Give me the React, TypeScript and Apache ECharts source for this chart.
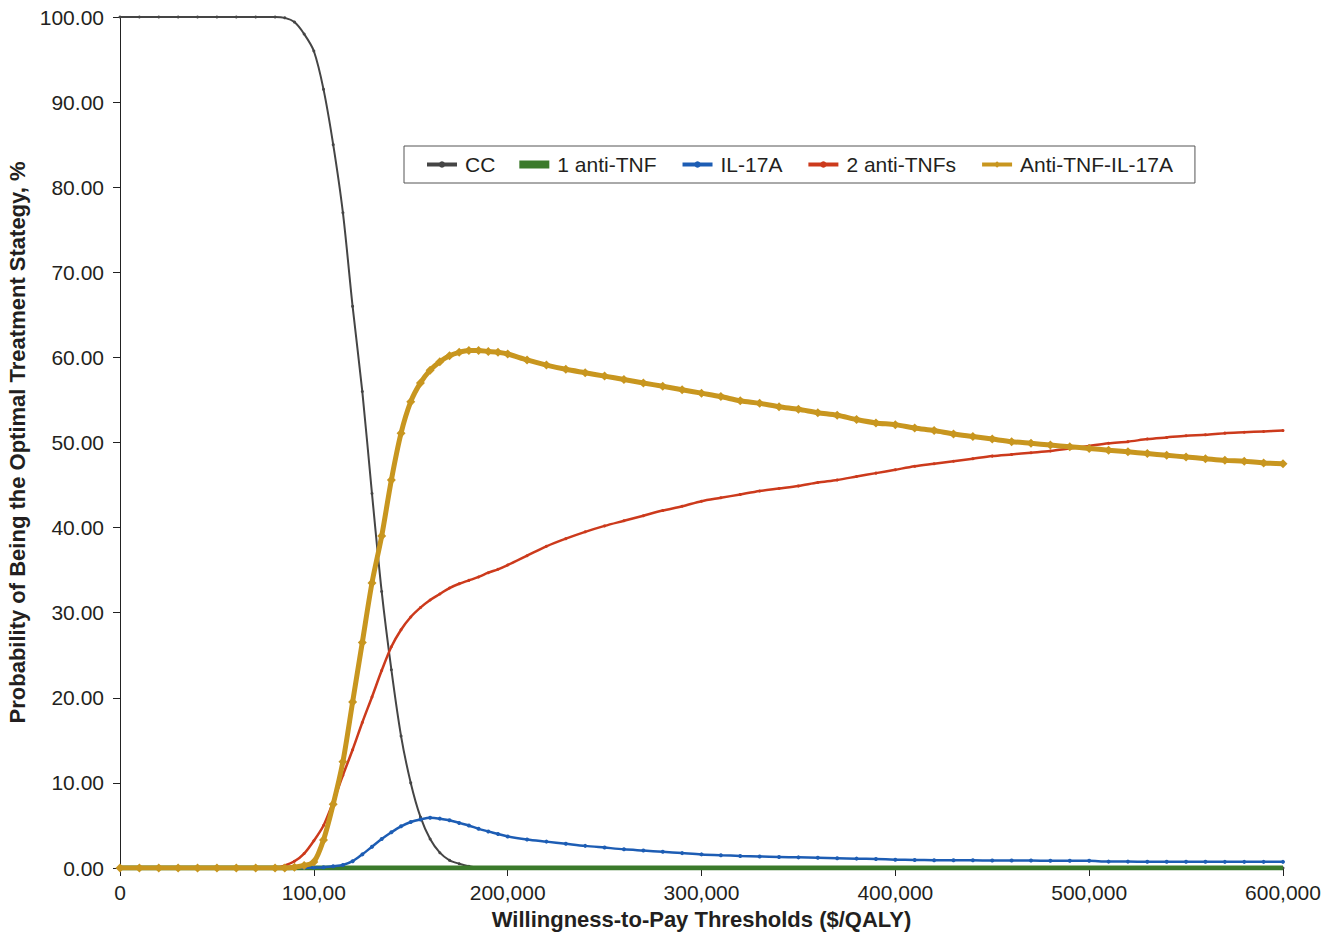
import React, { useEffect, useRef } from "react";
import * as echarts from "echarts";

const xValues = [
  0, 10000, 20000, 30000, 40000, 50000, 60000, 70000, 80000,
  85000, 90000, 95000, 100000, 105000, 110000, 115000, 120000, 125000, 130000, 135000, 140000,
  145000, 150000, 155000, 160000, 165000, 170000, 175000, 180000, 185000, 190000, 195000, 200000,
  210000, 220000, 230000, 240000, 250000, 260000, 270000, 280000, 290000, 300000,
  310000, 320000, 330000, 340000, 350000, 360000, 370000, 380000, 390000, 400000,
  410000, 420000, 430000, 440000, 450000, 460000, 470000, 480000, 490000, 500000,
  510000, 520000, 530000, 540000, 550000, 560000, 570000, 580000, 590000, 600000,
];

const ccValues = [
  100, 100, 100, 100, 100, 100, 100, 100, 100,
  99.9, 99.4, 98.0, 96.0, 91.5, 85.0, 77.0, 66.0, 56.0, 44.0, 32.5, 23.3,
  15.5, 10.0, 6.0, 3.4, 1.8, 0.9, 0.5, 0.2, 0.05, 0, 0, 0,
  0, 0, 0, 0, 0, 0, 0, 0, 0, 0,
  0, 0, 0, 0, 0, 0, 0, 0, 0, 0,
  0, 0, 0, 0, 0, 0, 0, 0, 0, 0,
  0, 0, 0, 0, 0, 0, 0, 0, 0, 0,
];

const antiTnf1Values = [
  0, 0, 0, 0, 0, 0, 0, 0, 0,
  0, 0, 0, 0, 0, 0, 0, 0, 0, 0, 0, 0,
  0, 0, 0, 0, 0, 0, 0, 0, 0, 0, 0, 0,
  0, 0, 0, 0, 0, 0, 0, 0, 0, 0,
  0, 0, 0, 0, 0, 0, 0, 0, 0, 0,
  0, 0, 0, 0, 0, 0, 0, 0, 0, 0,
  0, 0, 0, 0, 0, 0, 0, 0, 0, 0,
];

const il17aValues = [
  0, 0, 0, 0, 0, 0, 0, 0, 0,
  0, 0, 0, 0.05, 0.1, 0.2, 0.35, 0.8, 1.6, 2.5, 3.4, 4.2,
  4.9, 5.4, 5.7, 5.9, 5.8, 5.6, 5.3, 5.0, 4.6, 4.3, 4.0, 3.7,
  3.35, 3.1, 2.85, 2.6, 2.4, 2.2, 2.05, 1.9, 1.75, 1.6,
  1.5, 1.42, 1.35, 1.3, 1.25, 1.2, 1.15, 1.1, 1.05, 0.98,
  0.94, 0.92, 0.9, 0.9, 0.88, 0.88, 0.87, 0.86, 0.86, 0.85,
  0.75, 0.75, 0.74, 0.74, 0.73, 0.73, 0.72, 0.72, 0.72, 0.72,
];

const antiTnf2Values = [
  0, 0, 0, 0, 0, 0, 0, 0, 0,
  0.3, 0.8, 1.7, 3.2, 5.0, 7.8, 10.9, 13.9, 17.1, 20.1, 23.2, 26.0,
  28.0, 29.5, 30.6, 31.5, 32.2, 32.9, 33.4, 33.8, 34.2, 34.7, 35.1, 35.6,
  36.7, 37.8, 38.7, 39.5, 40.2, 40.8, 41.4, 42.0, 42.5, 43.1,
  43.5, 43.9, 44.3, 44.6, 44.9, 45.3, 45.6, 46.0, 46.4, 46.8,
  47.2, 47.5, 47.8, 48.1, 48.4, 48.6, 48.8, 49.0, 49.3, 49.6,
  49.9, 50.1, 50.4, 50.6, 50.8, 50.9, 51.1, 51.2, 51.3, 51.4,
];

const comboValues = [
  0, 0, 0, 0, 0, 0, 0, 0, 0,
  0, 0.1, 0.3, 0.7, 3.3, 7.5, 12.5, 19.5, 26.5, 33.5, 39.0, 45.6,
  51.1, 54.8, 57.0, 58.5, 59.5, 60.2, 60.6, 60.8, 60.8, 60.7, 60.6, 60.4,
  59.7, 59.1, 58.6, 58.2, 57.8, 57.4, 57.0, 56.6, 56.2, 55.8,
  55.4, 54.9, 54.6, 54.2, 53.9, 53.5, 53.2, 52.7, 52.3, 52.1,
  51.7, 51.4, 51.0, 50.7, 50.4, 50.1, 49.9, 49.7, 49.5, 49.3,
  49.1, 48.9, 48.7, 48.5, 48.3, 48.1, 47.9, 47.8, 47.6, 47.5,
];

const xTickLabels = ["0", "100,00", "200,000", "300,000", "400,000", "500,000", "600,000"];

const seriesNames = ["CC", "1 anti-TNF", "IL-17A", "2 anti-TNFs", "Anti-TNF-IL-17A"];

const FONT = "Liberation Sans, Arial, Helvetica, sans-serif";
const TEXT = "#231f20";

function pairs(vals: number[]) {
  return xValues.map((x, i) => [x, vals[i]]);
}

export default function App() {
  const ref = useRef<HTMLDivElement>(null);

  useEffect(() => {
    if (!ref.current) return;
    const chart = echarts.init(ref.current, undefined, { renderer: "svg" });
    chart.setOption({
      animation: false,
      backgroundColor: "#ffffff",
      textStyle: { fontFamily: FONT },
      grid: {
        left: 120,
        right: 55,
        top: 17,
        bottom: 67,
        containLabel: false,
        outerBoundsMode: "none",
      },
      legend: {
        left: 404,
        top: 146,
        padding: [8, 22, 8, 21],
        itemGap: 24,
        itemWidth: 30,
        itemHeight: 8,
        borderColor: "#555555",
        borderWidth: 1,
        lineStyle: { width: 4 },
        textStyle: { fontSize: 21, color: TEXT, fontFamily: FONT, padding: [0, 0, 0, 3] },
        data: [
          { name: seriesNames[0] },
          { name: seriesNames[1], icon: "rect" },
          { name: seriesNames[2] },
          { name: seriesNames[3] },
          { name: seriesNames[4] },
        ],
      },
      xAxis: {
        type: "value",
        min: 0,
        max: 600000,
        interval: 100000,
        name: "Willingness-to-Pay Thresholds ($/QALY)",
        nameLocation: "middle",
        nameGap: 40,
        nameTextStyle: { fontSize: 22, fontWeight: "bold", color: TEXT, fontFamily: FONT },
        axisLine: { lineStyle: { color: "#222", width: 1 } },
        axisTick: { show: true, length: 8, lineStyle: { color: "#222" } },
        axisLabel: {
          fontSize: 21,
          color: TEXT,
          margin: 14,
          formatter: (v: number) => xTickLabels[Math.round(v / 100000)] ?? "",
        },
        splitLine: { show: false },
      },
      yAxis: {
        type: "value",
        min: 0,
        max: 100,
        interval: 10,
        name: "Probability of Being the Optimal Treatment Stategy, %",
        nameLocation: "middle",
        nameGap: 88,
        nameTextStyle: { fontSize: 22, fontWeight: "bold", color: TEXT, fontFamily: FONT },
        axisLine: { show: true, lineStyle: { color: "#222", width: 1 } },
        axisTick: { show: true, length: 7, lineStyle: { color: "#222" } },
        axisLabel: {
          fontSize: 21,
          color: TEXT,
          margin: 16,
          formatter: (v: number) => v.toFixed(2),
        },
        splitLine: { show: false },
      },
      series: [
        {
          name: seriesNames[0],
          type: "line",
          data: pairs(ccValues),
          smooth: 0.3,
          symbol: "circle",
          symbolSize: 3,
          lineStyle: { color: "#454545", width: 2 },
          itemStyle: { color: "#454545" },
          z: 2,
        },
        {
          name: seriesNames[1],
          type: "line",
          data: pairs(antiTnf1Values),
          symbol: "none",
          lineStyle: { color: "#3b7a2b", width: 5 },
          itemStyle: { color: "#3b7a2b" },
          z: 3,
        },
        {
          name: seriesNames[2],
          type: "line",
          data: pairs(il17aValues),
          smooth: 0.3,
          symbol: "circle",
          symbolSize: 4,
          lineStyle: { color: "#1d5db4", width: 2.5 },
          itemStyle: { color: "#1d5db4" },
          z: 4,
        },
        {
          name: seriesNames[3],
          type: "line",
          data: pairs(antiTnf2Values),
          smooth: 0.3,
          symbol: "circle",
          symbolSize: 3,
          lineStyle: { color: "#cc3a1c", width: 2.5 },
          itemStyle: { color: "#cc3a1c" },
          z: 5,
        },
        {
          name: seriesNames[4],
          type: "line",
          data: pairs(comboValues),
          smooth: 0.3,
          symbol: "diamond",
          symbolSize: 9,
          lineStyle: { color: "#c8961f", width: 5 },
          itemStyle: { color: "#c8961f" },
          z: 6,
        },
      ],
    });
    return () => chart.dispose();
  }, []);

  return (
    <div
      ref={ref}
      style={{ position: "fixed", left: 0, top: 0, width: 1338, height: 935, background: "#fff" }}
    />
  );
}
